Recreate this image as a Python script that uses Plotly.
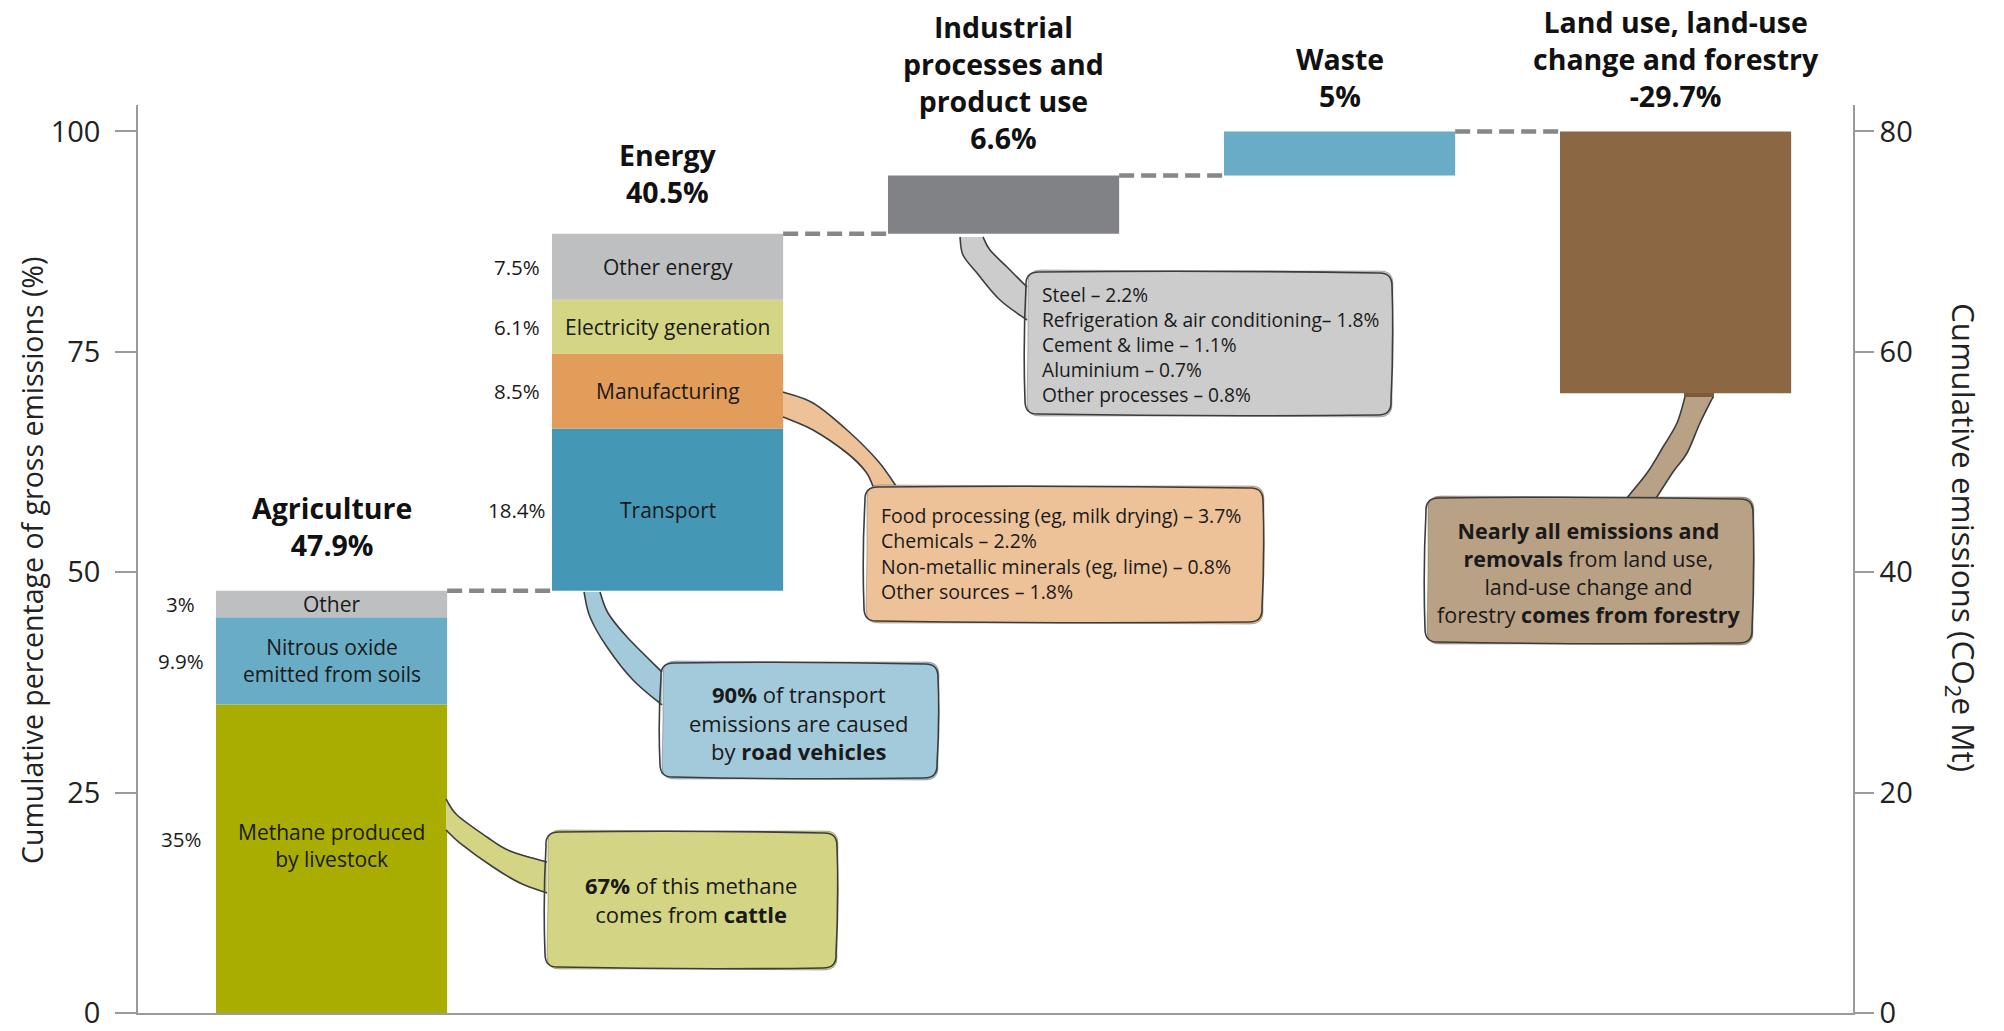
import plotly.graph_objects as go

# ---------------- data ----------------
categories = ["Agriculture", "Energy", "Industrial processes and product use", "Waste",
              "Land use, land-use change and forestry"]
category_titles = ["Agriculture", "Energy", "Industrial<br>processes and<br>product use",
                   "Waste", "Land use, land-use<br>change and forestry"]

agriculture_labels = ["Methane produced<br>by livestock", "Nitrous oxide<br>emitted from soils", "Other"]
agriculture_values = [35.0, 9.9, 3.0]
energy_labels = ["Transport", "Manufacturing", "Electricity generation", "Other energy"]
energy_values = [18.4, 8.5, 6.1, 7.5]
ippu_labels = [""]
ippu_values = [6.6]
waste_labels = [""]
waste_values = [5.0]
lulucf_labels = [""]
lulucf_values = [-29.7]

manufacturing_breakdown_labels = ["Food processing (eg, milk drying) – ", "Chemicals – ",
                                  "Non-metallic minerals (eg, lime) – ", "Other sources – "]
manufacturing_breakdown_values = [3.7, 2.2, 0.8, 1.8]
ippu_breakdown_labels = ["Steel – ", "Refrigeration &amp; air conditioning– ", "Cement &amp; lime – ",
                         "Aluminium – ", "Other processes – "]
ippu_breakdown_values = [2.2, 1.8, 1.1, 0.7, 0.8]

left_tick_values = [0, 25, 50, 75, 100]
right_tick_values = [0, 20, 40, 60, 80]
mt_per_percent = 0.8  # 100 % of gross emissions = 80 Mt CO2e

# ---------------- style ----------------
agriculture_colors = ["#A9AD00", "#68ACC5", "#BEBFC1"]
energy_colors = ["#4498B6", "#E39D5A", "#D4D684", "#BEBFC1"]
ippu_colors = ["#818286"]
waste_colors = ["#68ACC5"]
lulucf_colors = ["#8C6743"]
label_yshift = {"Methane produced<br>by livestock": (13, 20)}  # (label, percent) pixel nudges
title_yshift = [25, 21, 17, 14, 14]  # pixel gap between bar top and its title
FONT = "Open Sans"
TXT = "#1a1a1a"
AXC = "#9b9b9b"
BAR_W = 0.688
W, H = 2004, 1031
PL, PR, PT, PB = 138, 1853, 105, 1013
Y_MAX = 103.0

fig = go.Figure()

groups = [
    (agriculture_labels, agriculture_values, agriculture_colors, True),
    (energy_labels, energy_values, energy_colors, True),
    (ippu_labels, ippu_values, ippu_colors, False),
    (waste_labels, waste_values, waste_colors, False),
    (lulucf_labels, lulucf_values, lulucf_colors, False),
]

annotations = []
running = 0.0
ends = []
for i, (labels, values, colors, show) in enumerate(groups):
    start = running
    for lab, v, c in zip(labels, values, colors):
        fig.add_trace(go.Bar(x=[i], y=[v], base=[running], width=BAR_W,
                             marker=dict(color=c, line=dict(width=0)),
                             showlegend=False, hoverinfo="skip"))
        if show:
            mid = running + v / 2
            ls, ps = label_yshift.get(lab, (0, 0))
            annotations.append(dict(x=i, y=mid, xref="x", yref="y", text=lab, showarrow=False,
                                    yshift=ls, font=dict(family=FONT, size=21, color=TXT),
                                    xanchor="center", yanchor="middle"))
            annotations.append(dict(x=i - BAR_W / 2, y=mid, xref="x", yref="y", text=f"{v:g}%",
                                    showarrow=False, xshift=-35, yshift=ps,
                                    font=dict(family=FONT, size=20.5, color=TXT),
                                    xanchor="center", yanchor="middle"))
        running += v
    total = round(running - start, 1)
    ends.append(running)
    top = max(start, running)
    annotations.append(dict(x=i, y=top, xref="x", yref="y",
                            text=f"<b>{category_titles[i]}<br>{total:g}%</b>",
                            showarrow=False, yshift=title_yshift[i],
                            font=dict(family=FONT, size=28.5, color="#111"),
                            xanchor="center", yanchor="bottom"))

# dashed connectors between consecutive bars
for i in range(len(groups) - 1):
    fig.add_trace(go.Scatter(x=[i + BAR_W / 2, i + 1 - BAR_W / 2], y=[ends[i], ends[i]],
                             mode="lines", line=dict(color="#86878B", width=4.5, dash="15px,7px"),
                             showlegend=False, hoverinfo="skip"))

# invisible trace on the Mt axis so it is drawn
fig.add_trace(go.Scatter(x=[len(groups) - 1], y=[ends[-1] * mt_per_percent], yaxis="y2",
                         mode="markers", marker=dict(opacity=0), showlegend=False, hoverinfo="skip"))


# ---------------- callouts (pixel geometry -> paper coords) ----------------
def px(x):
    return (x - PL) / (PR - PL)


def py(y):
    return (PB - y) / (PB - PT)


def pt(p):
    return f"{px(p[0]):.5f},{py(p[1]):.5f}"


def poly_path(pts, close=True):
    s = "M " + " L ".join(pt(p) for p in pts)
    return s + (" Z" if close else "")


def smooth_path(pts):
    s = "M " + pt(pts[0])
    for k in range(len(pts) - 1):
        p0 = pts[k - 1] if k > 0 else pts[k]
        p1 = pts[k]
        p2 = pts[k + 1]
        p3 = pts[k + 2] if k + 2 < len(pts) else pts[k + 1]
        c1 = (p1[0] + (p2[0] - p0[0]) / 6, p1[1] + (p2[1] - p0[1]) / 6)
        c2 = (p2[0] - (p3[0] - p1[0]) / 6, p2[1] - (p3[1] - p1[1]) / 6)
        s += f" C {pt(c1)} {pt(c2)} {pt(p2)}"
    return s


def rrect_path(x0, y0, x1, y1, r, wob=2.0):
    segs = [
        ("M", (x0 + r, y0)),
        ("Q", (x0 + (x1 - x0) * 0.5, y0 - wob), (x1 - r, y0 + 1)),
        ("Q", (x1, y0), (x1, y0 + r)),
        ("Q", (x1 + wob, (y0 + y1) / 2), (x1 - 1, y1 - r)),
        ("Q", (x1, y1), (x1 - r, y1)),
        ("Q", ((x0 + x1) / 2, y1 + wob), (x0 + r, y1 - 1)),
        ("Q", (x0, y1), (x0, y1 - r)),
        ("Q", (x0 - wob, (y0 + y1) / 2), (x0 + 1, y0 + r)),
        ("Q", (x0, y0), (x0 + r, y0)),
    ]
    s = ""
    for seg in segs:
        if seg[0] == "M":
            s += "M " + pt(seg[1])
        else:
            s += f" Q {pt(seg[1])} {pt(seg[2])}"
    return s + " Z"


shapes = []
OUT = "#3c3c3c"


def callout(box, fill, edge_a, edge_b):
    x0, y0, x1, y1 = box
    band = edge_a + list(reversed(edge_b))
    shapes.append(dict(type="path", xref="paper", yref="paper", path=poly_path(band),
                       fillcolor=fill, line=dict(width=0), layer="above"))
    for e in (edge_a, edge_b):
        shapes.append(dict(type="path", xref="paper", yref="paper", path=smooth_path(e),
                           line=dict(color=OUT, width=1.6), layer="above"))
    shapes.append(dict(type="path", xref="paper", yref="paper",
                       path=rrect_path(x0 + 2, y0 - 2, x1 + 1, y1 + 2, 14, wob=-1.5),
                       fillcolor=fill, line=dict(color="rgba(60,60,60,0.35)", width=1.0), layer="above"))
    shapes.append(dict(type="path", xref="paper", yref="paper", path=rrect_path(x0, y0, x1, y1, 14),
                       fillcolor="rgba(0,0,0,0)", line=dict(color=OUT, width=1.6), layer="above"))


# methane (agriculture)
callout((545, 832, 837, 968), "#D3D584",
        [(446, 799), (457, 815), (487, 837), (510, 851), (547, 862)],
        [(446, 830), (460, 843), (493, 867), (520, 883), (547, 893)])
# transport
callout((660, 663, 938, 778), "#A2CADB",
        [(584, 592), (590, 617), (607, 647), (633, 680), (662, 705)],
        [(600, 592), (608, 613), (627, 637), (662, 672)])
# manufacturing
callout((864, 487, 1263, 622), "#EDC298",
        [(783, 392), (813, 403), (847, 430), (878, 461), (898, 489)],
        [(783, 417), (813, 430), (847, 453), (866, 472), (874, 489)])
# industrial processes
callout((1025, 272, 1392, 415), "#CCCCCC",
        [(960, 237), (963, 255), (977, 273), (1000, 300), (1027, 320)],
        [(983, 237), (990, 250), (1007, 267), (1027, 287)])
# LULUCF
shapes.append(dict(type="path", xref="paper", yref="paper",
                   path=poly_path([(1684, 393), (1714, 393), (1714, 398), (1699, 401), (1684, 399)]),
                   fillcolor="#7A5A38", line=dict(width=0), layer="above"))
callout((1425, 498, 1753, 643), "#B9A185",
        [(1685, 397), (1677, 423), (1663, 447), (1647, 473), (1625, 500)],
        [(1713, 397), (1700, 423), (1687, 453), (1673, 472), (1655, 500)])


def note(x, y, text, size, align="center", xanchor="center"):
    annotations.append(dict(x=px(x), y=py(y), xref="paper", yref="paper", text=text,
                            showarrow=False, align=align, xanchor=xanchor, yanchor="middle",
                            font=dict(family=FONT, size=size, color=TXT)))


note(691, 899, "<b>67%</b> of this methane<br>comes from <b>cattle</b>", 22)
note(799, 722, "<b>90%</b> of transport<br>emissions are caused<br>by <b>road vehicles</b>", 22)
note(879, 553, "<br>".join(f"{l}{v:g}%" for l, v in
                           zip(manufacturing_breakdown_labels, manufacturing_breakdown_values)),
     19.5, align="left", xanchor="left")
note(1040, 345, "<br>".join(f"{l}{v:g}%" for l, v in
                            zip(ippu_breakdown_labels, ippu_breakdown_values)),
     19.2, align="left", xanchor="left")
note(1589, 572, "<b>Nearly all emissions and<br>removals</b> from land use,<br>"
                "land-use change and<br>forestry <b>comes from forestry</b>", 21.5)

# axis titles
annotations.append(dict(x=px(32), y=py(561), xref="paper", yref="paper",
                        text="Cumulative percentage of gross emissions (%)", textangle=-90,
                        showarrow=False, font=dict(family=FONT, size=28.5, color="#222"),
                        xanchor="center", yanchor="middle"))
annotations.append(dict(x=px(1963), y=py(537), xref="paper", yref="paper",
                        text="Cumulative emissions (CO<sub>2</sub>e Mt)", textangle=90,
                        showarrow=False, font=dict(family=FONT, size=31.5, color="#222"),
                        xanchor="center", yanchor="middle"))

fig.update_layout(
    width=W, height=H,
    margin=dict(l=PL, r=W - PR, t=PT, b=H - PB, pad=0, autoexpand=False),
    paper_bgcolor="white", plot_bgcolor="white",
    barmode="overlay", showlegend=False,
    font=dict(family=FONT, color=TXT),
    xaxis=dict(range=[-0.576, 4.528], showgrid=False, zeroline=False, showticklabels=False,
               ticks="", showline=True, linecolor=AXC, linewidth=1.5, fixedrange=True,
               automargin=False),
    yaxis=dict(range=[0, Y_MAX], tickvals=left_tick_values, showgrid=False, zeroline=False,
               showline=True, linecolor=AXC, linewidth=1.5, ticks="outside", ticklen=21,
               tickcolor=AXC, tickwidth=1.5, ticklabelstandoff=9, ticklabeloverflow="allow",
               automargin=False, tickfont=dict(family=FONT, size=29, color="#222")),
    yaxis2=dict(range=[0, Y_MAX * mt_per_percent], tickvals=right_tick_values, overlaying="y",
                side="right", showgrid=False, zeroline=False, showline=True, linecolor=AXC,
                linewidth=1.5, ticks="outside", ticklen=19, tickcolor=AXC, tickwidth=1.5,
                ticklabeloverflow="allow", automargin=False,
                tickfont=dict(family=FONT, size=29, color="#222")),
    annotations=annotations,
    shapes=shapes,
)

fig.write_html("out.html", config={"displayModeBar": False},
               post_script="document.body.style.margin='0px';")
